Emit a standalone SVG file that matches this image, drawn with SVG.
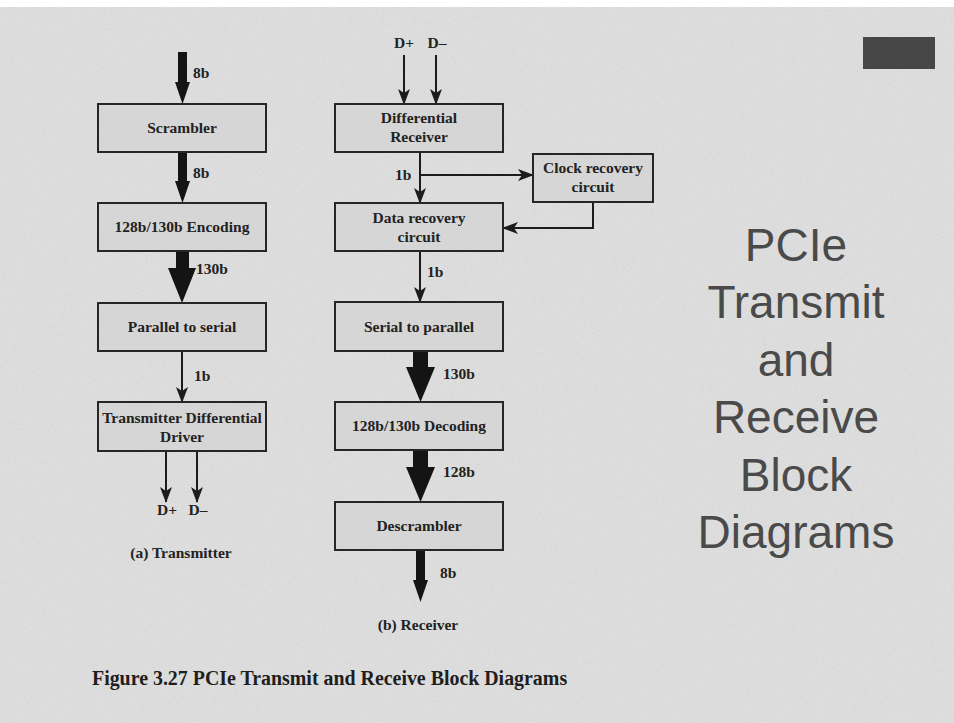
<svg xmlns="http://www.w3.org/2000/svg" width="954" height="723" viewBox="0 0 954 723">
<style>
.box{fill:#d6d6d6;stroke:#262626;stroke-width:2}
.t{font-family:"Liberation Serif","Times New Roman",serif;font-weight:bold;font-size:15.5px;fill:#222;text-anchor:middle}
.lbl{font-family:"Liberation Serif","Times New Roman",serif;font-weight:bold;font-size:15.5px;fill:#222}
.thin{stroke:#1c1c1c;stroke-width:2;fill:none;marker-end:url(#ah)}
.thick{fill:#141414}
.big{font-family:"Liberation Sans",Arial,sans-serif;font-size:46px;fill:#4a4a4a;text-anchor:middle}
.cap{font-family:"Liberation Serif","Times New Roman",serif;font-weight:bold;font-size:19.9px;fill:#1e1e1e}
</style>
<defs>
<marker id="ah" markerUnits="userSpaceOnUse" markerWidth="16" markerHeight="12" viewBox="0 0 16 12" refX="15" refY="6" orient="auto">
<path d="M0,0 L16,6 L0,12 L4,6 z" fill="#1c1c1c"/>
</marker>
<filter id="noise" x="0" y="0" width="100%" height="100%">
<feTurbulence type="fractalNoise" baseFrequency="0.9" numOctaves="2" seed="3" result="n"/>
<feColorMatrix in="n" type="matrix" values="0 0 0 0 0.55  0 0 0 0 0.55  0 0 0 0 0.55  0 0 0 -2.2 1.25" result="m"/>
<feComposite in="m" in2="SourceGraphic" operator="in"/>
</filter>
</defs>
<rect x="0" y="0" width="954" height="723" fill="#dedede"/>
<rect x="0" y="0" width="954" height="723" fill="#dedede" filter="url(#noise)" opacity="0.35"/>
<rect x="0" y="0" width="954" height="7" fill="#ffffff"/>
<rect x="863" y="37" width="72" height="32" fill="#474747"/>

<g id="connectors">
<path class="thick" d="M178,52 H187 V82 H190 L182.5,104 L175,82 H178 Z"/>
<path class="thick" d="M178,152 H187 V181 H190 L182.5,203 L175,181 H178 Z"/>
<path class="thick" d="M176,251 H189 V268 H196 L182,303 L168,268 H176 Z"/>
<line class="thin" x1="182" y1="351" x2="182" y2="402"/>
<line class="thin" x1="166" y1="451" x2="166" y2="502"/>
<line class="thin" x1="197" y1="451" x2="197" y2="502"/>
<line class="thin" x1="404" y1="55" x2="404" y2="104"/>
<line class="thin" x1="436" y1="55" x2="436" y2="104"/>
<line class="thin" x1="420" y1="152" x2="420" y2="203"/>
<line class="thin" x1="420" y1="175" x2="533" y2="175"/>
<polyline class="thin" points="593,202 593,228 503,228"/>
<line class="thin" x1="420" y1="251" x2="420" y2="302"/>
<path class="thick" d="M413,351 H428 V367 H435 L420.5,402 L406,367 H413 Z"/>
<path class="thick" d="M413,450 H428 V467 H435 L420.5,502 L406,467 H413 Z"/>
<path class="thick" d="M416,550 H425 V580 H428 L420.5,602 L413,580 H416 Z"/>
<text class="lbl" x="193" y="78">8b</text>
<text class="lbl" x="193" y="178">8b</text>
<text class="lbl" x="196" y="274">130b</text>
<text class="lbl" x="194" y="381">1b</text>
<text class="t" x="167" y="515">D+</text>
<text class="t" x="198" y="515">D–</text>
<text class="t" x="404" y="48">D+</text>
<text class="t" x="437" y="48">D–</text>
<text class="lbl" x="395" y="180">1b</text>
<text class="lbl" x="427" y="277">1b</text>
<text class="lbl" x="443" y="379">130b</text>
<text class="lbl" x="443" y="477">128b</text>
<text class="lbl" x="440" y="578">8b</text>
</g>

<g id="scrambler"><rect class="box" x="98" y="104" width="168" height="48"/><text class="t" x="182" y="133">Scrambler</text></g>
<g id="encoding"><rect class="box" x="98" y="203" width="168" height="48"/><text class="t" x="182" y="232">128b/130b Encoding</text></g>
<g id="par2ser"><rect class="box" x="98" y="303" width="168" height="48"/><text class="t" x="182" y="332">Parallel to serial</text></g>
<g id="txdriver"><rect class="box" x="98" y="402" width="168" height="49"/><text class="t" x="182" y="423">Transmitter Differential</text><text class="t" x="182" y="442">Driver</text></g>
<text class="t" x="181" y="558">(a) Transmitter</text>

<g id="diffrx"><rect class="box" x="335" y="104" width="168" height="48"/><text class="t" x="419" y="123">Differential</text><text class="t" x="419" y="142">Receiver</text></g>
<g id="clockrec"><rect class="box" x="533" y="154" width="120" height="48"/><text class="t" x="593" y="173">Clock recovery</text><text class="t" x="593" y="192">circuit</text></g>
<g id="datarec"><rect class="box" x="335" y="203" width="168" height="48"/><text class="t" x="419" y="223">Data recovery</text><text class="t" x="419" y="242">circuit</text></g>
<g id="ser2par"><rect class="box" x="335" y="302" width="168" height="49"/><text class="t" x="419" y="332">Serial to parallel</text></g>
<g id="decoding"><rect class="box" x="335" y="402" width="168" height="48"/><text class="t" x="419" y="431">128b/130b Decoding</text></g>
<g id="descrambler"><rect class="box" x="335" y="502" width="168" height="48"/><text class="t" x="419" y="531">Descrambler</text></g>
<text class="t" x="418" y="630">(b) Receiver</text>

<g id="title">
<text class="big" x="796" y="261">PCIe</text>
<text class="big" x="796" y="318">Transmit</text>
<text class="big" x="796" y="376">and</text>
<text class="big" x="796" y="433">Receive</text>
<text class="big" x="796" y="491">Block</text>
<text class="big" x="796" y="548">Diagrams</text>
</g>
<text class="cap" x="92" y="685">Figure 3.27 PCIe Transmit and Receive Block Diagrams</text>
</svg>
